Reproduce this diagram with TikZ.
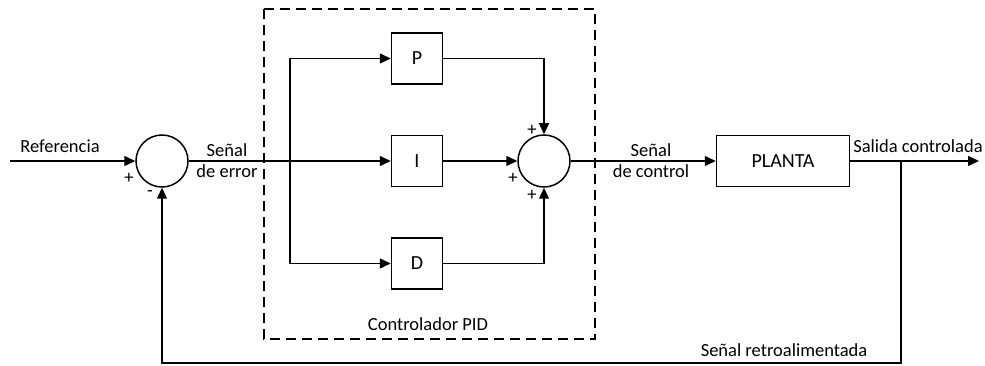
\documentclass[tikz,border=0pt]{standalone}
\usepackage{fontspec}
\setmainfont{Carlito}
\usepackage{tikz}
\usetikzlibrary{positioning}
\usetikzlibrary{arrows.meta}

\tikzset{
  bloque/.style={draw, line width=1.5pt, minimum size=51pt, inner sep=0pt, font=\fontsize{20}{24}\selectfont},
  sumador/.style={draw, circle, line width=1.5pt, minimum size=52pt, inner sep=0pt},
  flecha/.style={line width=1.5pt, -{Triangle[length=11pt,width=10pt]}},
}

\begin{document}
\begin{tikzpicture}[x=1pt, y=-1pt, font=\fontsize{18.5}{21}\selectfont]
        \useasboundingbox (0,0) rectangle (985,366);

        % bloques
        \node (s1)[sumador] at (162,161) {};
        \node (P)[bloque] at (417,58.5) {P};
        \node (I)[bloque] at (417,161) {I};
        \node (D)[bloque] at (417,263.5) {D};
        \node (s2)[sumador] at (544,161) {};
        \node (planta)[bloque, minimum width=133pt] at (783,161) {PLANTA};

        % puntos
        \coordinate (entrada) at (10,161);
        \coordinate (bif) at (290,161);
        \coordinate (salida) at (979,161);
        \coordinate (rama) at (901,161);
        \coordinate (retro) at (901,363);

        % bloque PID
        \draw[line width=1.5pt, dash pattern=on 10pt off 6pt] (264,9) rectangle (595,339);

        % conexiones
        \draw[flecha] (entrada) -- (s1);
        \draw[flecha] (s1) -- (I);
        \draw[flecha] (bif) |- (P);
        \draw[flecha] (bif) |- (D);
        \draw[flecha] (P) -| (s2);
        \draw[flecha] (I) -- (s2);
        \draw[flecha] (D) -| (s2);
        \draw[flecha] (s2) -- (planta);
        \draw[flecha] (planta) -- (salida);
        \draw[flecha] (rama) -- (retro) -| (s1);

        % textos
        \node (ref) at (60,146) {Referencia};
        \node (mas1) at (129,178) {+};
        \node (menos1) at (150,194) {-};
        \node (err)[align=center] at (227,161) {Señal\\de error};
        \node (mas2) at (532,130) {+};
        \node (mas3) at (513,178) {+};
        \node (mas4) at (532,195) {+};
        \node (ctrl)[align=center] at (651,161) {Señal\\de control};
        \node (sal) at (918,146) {Salida controlada};
        \node (pid) at (428,324) {Controlador PID};
        \node (realim) at (784,350) {Señal retroalimentada};

    \end{tikzpicture}
\end{document}
